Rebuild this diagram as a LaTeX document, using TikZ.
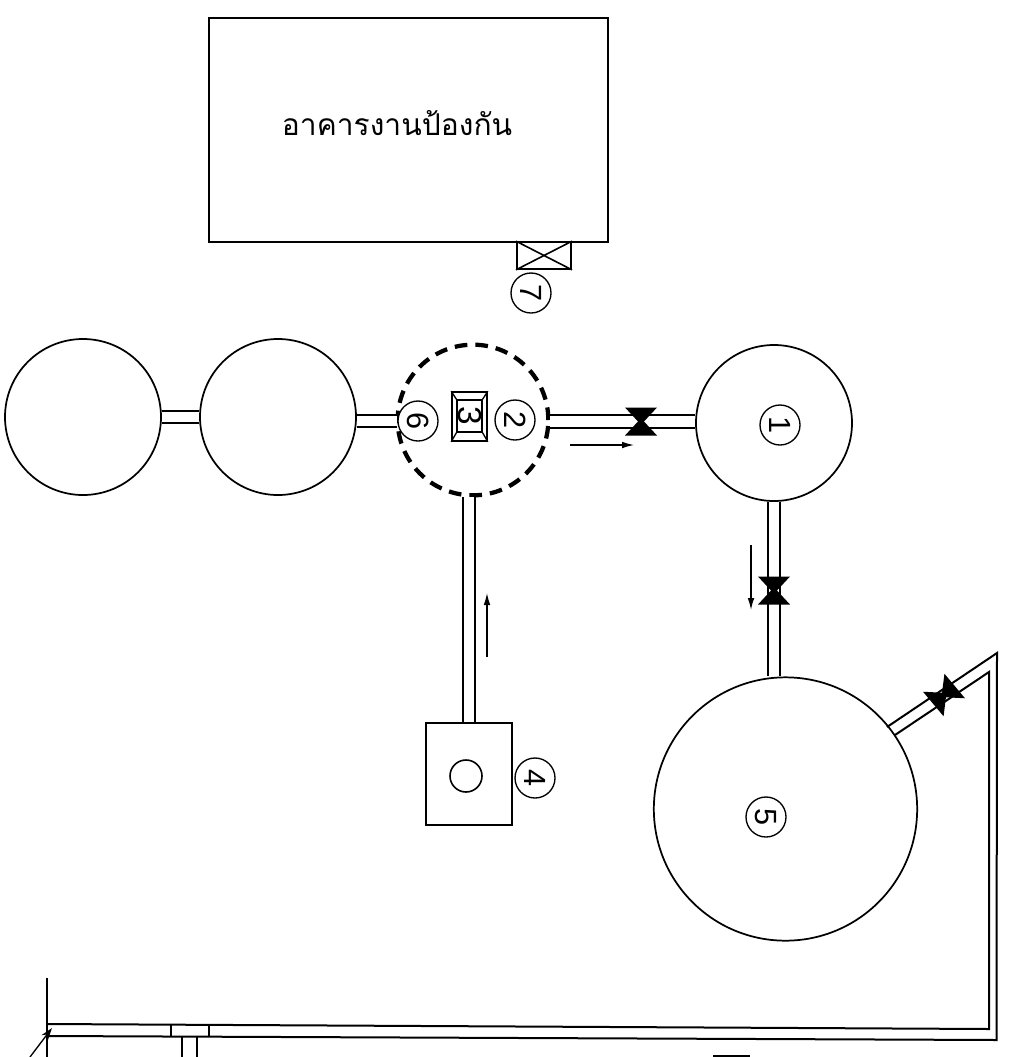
\documentclass[tikz,border=0pt]{standalone}
\usepackage{fontspec}
\setmainfont{Liberation Sans}
\newfontfamily\thaifont[Script=Thai]{Loma}
\usetikzlibrary{arrows.meta}
\tikzset{
  wire/.style={line width=1.5pt},
  tank/.style={circle,draw,line width=1.3pt,inner sep=0pt},
  tag/.style={circle,draw,line width=1pt,inner sep=0pt,minimum size=30pt,rotate=-90,font=\fontsize{23}{25}\selectfont},
  pipeline/.style={double=white,double distance=7.9pt,line width=1.5pt,draw=black},
  flow/.style={line width=1pt,-{Latex[length=9pt,width=5pt]}},
  bowtie/.pic={\fill[black] (-16,-14) -- (16,-14) -- (3,0) -- (16,14) -- (-16,14) -- (-3,0) -- cycle;}
}
\begin{document}
\begin{tikzpicture}[x=.75pt,y=-.75pt]
  \useasboundingbox (0,0) rectangle (1011,1057);

  % building and store
  \node[draw,wire,minimum width=299pt,minimum height=168pt,inner sep=0pt] (hall) at (408.5,130) {};
  \node[anchor=base,inner sep=0pt,font=\thaifont\fontsize{22.5}{27}\selectfont] (hallname) at (397,135) {อาคารงานป้องกัน};
  \node[draw,wire,minimum width=40.5pt,minimum height=20pt,inner sep=0pt] (store) at (544,255.5) {};
  \draw[line width=1.2pt] (store.north west) -- (store.south east)
        (store.north east) -- (store.south west);
  \node[tag] (n7) at (531,293) {7};

  % tanks
  \node[tank,minimum size=117pt] (left1) at (83,417) {};
  \node[tank,minimum size=117pt] (left2) at (278,417) {};
  \node[tank,minimum size=117pt] (tank1) at (774,423) {};
  \node[tank,minimum size=197.5pt] (tank5) at (785.5,809) {};
  \node[circle,draw=black,line width=3.2pt,dash pattern=on 9.5pt off 6pt,inner sep=0pt,minimum size=113pt] (zone) at (473,420) {};
  \node[tag] (n1) at (780,425) {1};
  \node[tag] (n2) at (515,420) {2};
  \node[tag] (n5) at (766,817) {5};
  \node[tag,fill=white] (n6) at (418,421) {6};

  % unit 3
  \node[draw,wire,minimum width=26pt,minimum height=36.5pt,inner sep=0pt] (box3) at (469.5,416.5) {};
  \node[draw,line width=1.2pt,minimum width=18.5pt,minimum height=24pt,inner sep=0pt] (core3) at (469.5,416) {};
  \node[rotate=-90,inner sep=0pt,font=\fontsize{25}{27}\selectfont] (n3) at (469.5,416) {3};
  \draw[line width=1pt] (box3.north west) -- (core3.north west)
        (box3.north east) -- (core3.north east)
        (box3.south west) -- (core3.south west)
        (box3.south east) -- (core3.south east);

  % unit 4
  \node[draw,wire,minimum width=65pt,minimum height=76pt,inner sep=0pt] (box4) at (469,774) {};
  \node[circle,draw,line width=1.2pt,inner sep=0pt,minimum size=24pt] (hole4) at (466,776) {};
  \node[tag] (n4) at (535,778) {4};

  % valves
  \coordinate (valve1) at (641,421.5);
  \coordinate (valve2) at (774,590.5);
  \coordinate (valve3) at (944,695);

  % pipes
  \draw[pipeline] (left1) -- (left2);
  \draw[pipeline] (left2.east |- n6) -- (n6);
  \draw[pipeline] (zone.east |- valve1) -- (valve1) -- (tank1.west |- valve1);
  \draw[pipeline] (box4) -- (box4 |- zone.south);
  \draw[pipeline] (tank1) -- (tank1 |- tank5.north);
  \pic at (valve1) {bowtie};
  \pic at (valve2) {bowtie};
  \pic[rotate=-50] at (valve3) {bowtie};

  % long pipe
  \coordinate (a1) at (887,727);
  \coordinate (a2) at (997,653);
  \coordinate (a3) at (996.5,1040);
  \coordinate (a4) at (47,1036);
  \coordinate (b1) at (895,735);
  \coordinate (b2) at (989,672);
  \coordinate (b3) at (989,1029);
  \coordinate (b4) at (47,1024);
  \draw[wire,line join=miter] (a1) -- (a2) -- (a3) -- (a4);
  \draw[wire,line join=miter] (b1) -- (b2) -- (b3) -- (b4);

  % bottom left corner
  \coordinate (w1) at (47,978);
  \coordinate (w2) at (47,1057);
  \coordinate (t1) at (171,1025);
  \coordinate (t2) at (171,1036);
  \coordinate (t3) at (209,1025);
  \coordinate (t4) at (209,1036);
  \coordinate (d1) at (182,1036);
  \coordinate (d2) at (182,1057);
  \coordinate (d3) at (197,1036);
  \coordinate (d4) at (197,1057);
  \coordinate (m1) at (30,1057);
  \coordinate (m2) at (52,1028);
  \coordinate (s1) at (713,1056);
  \coordinate (s2) at (750,1056);
  \draw[wire] (w1) -- (w2);
  \draw[wire] (t1) -- (t2);
  \draw[wire] (t3) -- (t4);
  \draw[wire] (d1) -- (d2);
  \draw[wire] (d3) -- (d4);
  \draw[line width=1pt,-{Stealth[length=9pt,width=6pt]}] (m1) -- (m2);
  \draw[wire] (s1) -- (s2);

  % flow arrows
  \coordinate (f1) at (570,445);
  \coordinate (f2) at (634,445);
  \coordinate (f3) at (487,657);
  \coordinate (f4) at (487,593);
  \coordinate (f5) at (751,545);
  \coordinate (f6) at (751,610);
  \draw[flow] (f1) -- (f2);
  \draw[flow] (f3) -- (f4);
  \draw[flow] (f5) -- (f6);
\end{tikzpicture}
\end{document}
